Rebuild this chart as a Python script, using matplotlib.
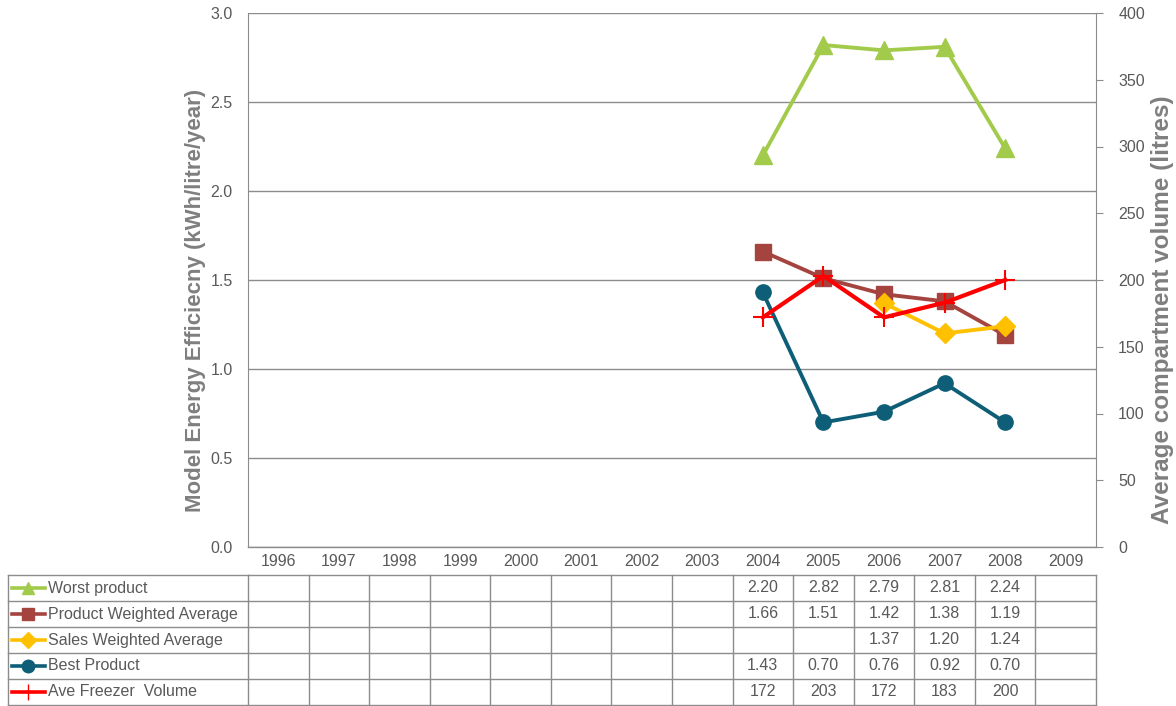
import numpy as np
import matplotlib.pyplot as plt
from matplotlib.transforms import blended_transform_factory

plt.rcParams['font.family'] = ['Liberation Sans', 'DejaVu Sans']

years = list(range(1996, 2010))
nan = np.nan

# values per year (1996..2009), blank where the table is blank
worst = [nan] * 8 + [2.20, 2.82, 2.79, 2.81, 2.24, nan]
prod_avg = [nan] * 8 + [1.66, 1.51, 1.42, 1.38, 1.19, nan]
sales_avg = [nan] * 10 + [1.37, 1.20, 1.24, nan]
best = [nan] * 8 + [1.43, 0.70, 0.76, 0.92, 0.70, nan]
freezer_vol = [nan] * 8 + [172, 203, 172, 183, 200, nan]

series = [
    ("Worst product", worst, "#A3CB4B", "^", "{:.2f}"),
    ("Product Weighted Average", prod_avg, "#A5443F", "s", "{:.2f}"),
    ("Sales Weighted Average", sales_avg, "#FFC000", "D", "{:.2f}"),
    ("Best Product", best, "#0E5E78", "o", "{:.2f}"),
    ("Ave Freezer  Volume", freezer_vol, "#FF0000", "+", "{:.0f}"),
]
plot_ms = {"^": 13, "s": 11, "D": 10, "o": 11}

txt = "#595959"
grid_c = "#8C8C8C"

fig = plt.figure(figsize=(11.76, 7.06), dpi=100)
W, H = 1176, 706
x0, x1, y0, y1 = 248, 1096, 547, 13
ax = fig.add_axes([x0 / W, 1 - y0 / H, (x1 - x0) / W, (y0 - y1) / H])
ax2 = ax.twinx()

x = np.arange(len(years))
for name, vals, c, m, fmt in series[:4]:
    ax.plot(x, vals, color=c, lw=2.8, marker=m, ms=plot_ms[m], mec=c, zorder=3)
name, vals, c, m, fmt = series[4]
ax2.plot(x, vals, color=c, lw=3, marker=m, ms=14, mew=1.5, zorder=3)

ax.set_xlim(-0.5, len(years) - 0.5)
ax.set_ylim(0, 3.0)
ax.set_yticks(np.arange(0, 3.01, 0.5))
ax.set_yticklabels([f"{v:.1f}" for v in np.arange(0, 3.01, 0.5)])
ax2.set_ylim(0, 400)
ax2.set_yticks(range(0, 401, 50))
ax.set_xticks([])
ax.grid(axis="y", color=grid_c, lw=1)
ax.set_axisbelow(True)

for a in (ax, ax2):
    for s in a.spines.values():
        s.set_visible(False)
ax.spines["left"].set_visible(True)
ax.spines["left"].set_color(grid_c)
ax2.spines["right"].set_visible(True)
ax2.spines["right"].set_color(grid_c)
ax.tick_params(axis="y", length=0, pad=11, labelsize=11.5, labelcolor=txt)
ax2.tick_params(axis="y", length=5, color=grid_c, pad=11, labelsize=11.5, labelcolor=txt)

fig.text(196 / W, 1 - 300 / H, "Model Energy Efficiecny (kWh/litre/year)", rotation=90,
         ha="center", va="center", fontsize=16, fontweight="bold", color="#7F7F7F")
fig.text(1162 / W, 1 - 310 / H, "Average compartment volume (litres)", rotation=90,
         ha="center", va="center", fontsize=17.5, fontweight="bold", color="#7F7F7F")

# data table under the plot
ph = y0 - y1
tr = blended_transform_factory(ax.transData, ax.transAxes)
head_b = -28 / ph
row_h = 26 / ph
n_rows = len(series)
bottom = head_b - n_rows * row_h
lab_left = (8 - x0) / (x1 - x0)
lc = "#8C8C8C"
fs = 11.5

def hline(xa, xb, y, transform):
    ax.plot([xa, xb], [y, y], color=lc, lw=1, transform=transform, clip_on=False)

def vline(xp, ya, yb, transform):
    ax.plot([xp, xp], [ya, yb], color=lc, lw=1, transform=transform, clip_on=False)

# header
hline(-0.5, len(years) - 0.5, 0, tr)
for i in range(len(years) + 1):
    vline(i - 0.5, head_b, bottom, tr)
for i, yr in enumerate(years):
    ax.text(i, head_b / 2, str(yr), transform=tr, ha="center", va="center",
            fontsize=fs, color=txt)
# row lines
for r in range(n_rows + 1):
    y = head_b - r * row_h
    hline(lab_left, 0, y, ax.transAxes)
    hline(-0.5, len(years) - 0.5, y, tr)
vline(lab_left, head_b, bottom, ax.transAxes)

for r, (name, vals, c, m, fmt) in enumerate(series):
    yc = head_b - (r + 0.5) * row_h
    kx = [(12 - x0) / (x1 - x0), (45 - x0) / (x1 - x0)]
    ax.plot(kx, [yc, yc], color=c, lw=2.6, transform=ax.transAxes, clip_on=False)
    ms = {"^": 9, "s": 9, "D": 8, "o": 9, "+": 12}[m]
    ax.plot([(28 - x0) / (x1 - x0)], [yc], color=c, marker=m, ms=ms, mec=c,
            transform=ax.transAxes, clip_on=False)
    ax.text((48 - x0) / (x1 - x0), yc, name, transform=ax.transAxes, ha="left",
            va="center", fontsize=fs, color=txt)
    for i, v in enumerate(vals):
        if not np.isnan(v):
            ax.text(i, yc, fmt.format(v), transform=tr, ha="center", va="center",
                    fontsize=fs, color=txt)

fig.savefig("out.png", dpi=100)
